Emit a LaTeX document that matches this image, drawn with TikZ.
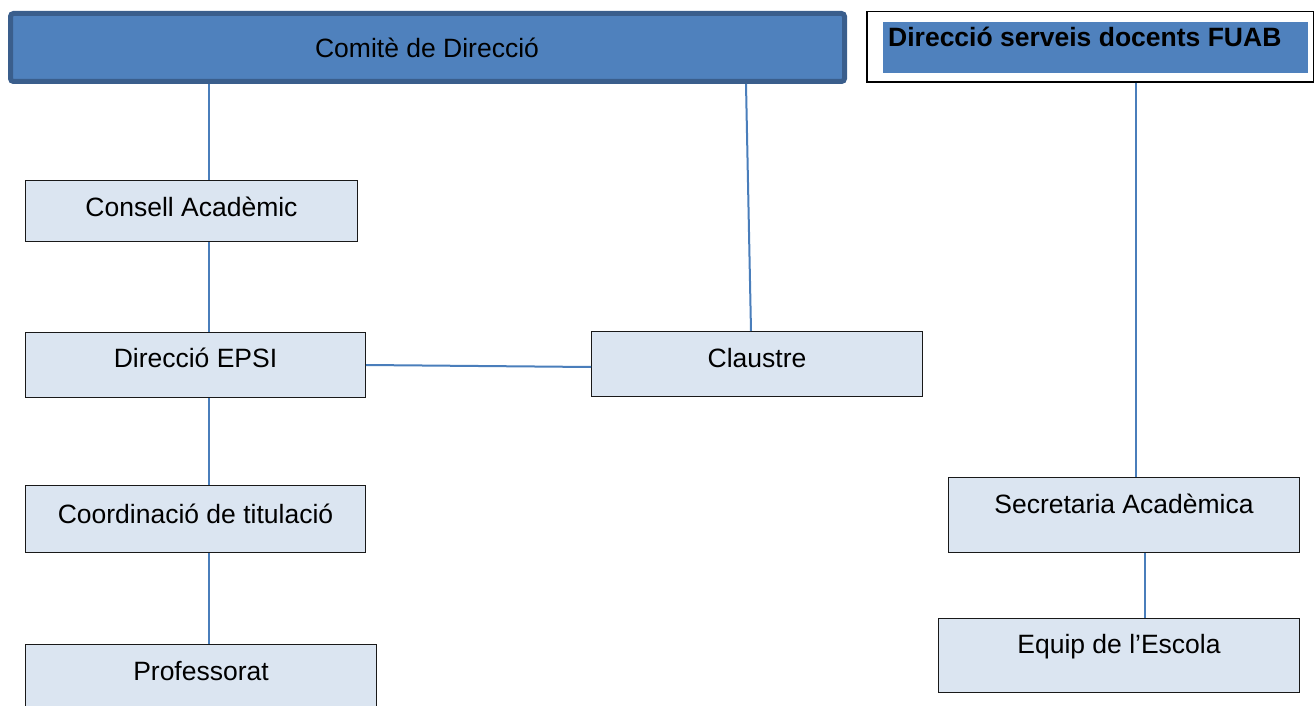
\documentclass[tikz,border=0pt]{standalone}
\usepackage{fontspec}
\setmainfont{Liberation Sans}
\definecolor{comfill}{RGB}{79,129,189}
\definecolor{comborder}{RGB}{58,94,140}
\definecolor{boxfill}{RGB}{219,229,241}
\definecolor{linkblue}{RGB}{74,126,187}
\tikzset{
  orgbox/.style={draw=black!90, line width=1.3pt, fill=boxfill, rectangle, inner sep=0pt, anchor=north west},
  orgtext/.style={anchor=base, inner sep=0pt, font=\fontsize{26.5}{30}\selectfont},
  link/.style={draw=linkblue, line width=2pt},
}
\begin{document}
\begin{tikzpicture}[x=1pt,y=-1pt]
\path[use as bounding box] (0,0) rectangle (1315,706);
\clip (0,0) rectangle (1315,706);
% top boxes
\node[draw=comborder, line width=5pt, fill=comfill, rounded corners=3pt, inner sep=0pt,
      minimum width=834pt, minimum height=68pt, anchor=north west] (com) at (8,11) {};
\node[orgtext] (tcom) at (427,58) {Comitè de Direcció};
\node[draw=black, line width=1.5pt, fill=white, inner sep=0pt,
      minimum width=446.5pt, minimum height=70.5pt, anchor=north west] (fuab) at (866,11) {};
\node[fill=comfill, inner sep=0pt, minimum width=425pt, minimum height=51pt, anchor=north west] (fuabin) at (883,22) {};
\node[anchor=base west, inner sep=0pt, font=\fontsize{26.5}{30}\selectfont\bfseries] (tfuab) at (888,47) {Direcció serveis docents FUAB};
% left column
\node[orgbox, minimum width=331.7pt, minimum height=60.7pt] (cons) at (25,180) {};
\node[orgtext] (tcons) at (191.5,216) {Consell Acadèmic};
\node[orgbox, minimum width=339.7pt, minimum height=64.7pt] (epsi) at (25,332) {};
\node[orgtext] (tepsi) at (195.5,367) {Direcció EPSI};
\node[orgbox, minimum width=339.7pt, minimum height=66.7pt] (coord) at (25,485) {};
\node[orgtext] (tcoord) at (195.5,523) {Coordinació de titulació};
\node[orgbox, minimum width=350.7pt, minimum height=80pt] (prof) at (25,644) {};
\node[orgtext] (tprof) at (201,680) {Professorat};
% middle
\node[orgbox, minimum width=330.7pt, minimum height=64.7pt] (cla) at (591,331) {};
\node[orgtext] (tcla) at (757,367) {Claustre};
% right column
\node[orgbox, minimum width=350.7pt, minimum height=74.7pt] (sec) at (948,477) {};
\node[orgtext] (tsec) at (1124,513) {Secretaria Acadèmica};
\node[orgbox, minimum width=360.7pt, minimum height=73.7pt] (equip) at (938,618) {};
\node[orgtext] (tequip) at (1119,653) {Equip de l’Escola};
% connectors
\coordinate (xa) at (209,0);
\coordinate (xb) at (746,0);
\coordinate (xc) at (751,0);
\coordinate (xd) at (1136,0);
\coordinate (xe) at (1145,0);
\coordinate (ya) at (0,365);
\coordinate (yb) at (0,367);
\draw[link] (com.south -| xa) -- (cons.north -| xa);
\draw[link] (cons.south -| xa) -- (epsi.north -| xa);
\draw[link] (epsi.south -| xa) -- (coord.north -| xa);
\draw[link] (coord.south -| xa) -- (prof.north -| xa);
\draw[link] (com.south -| xb) -- (cla.north -| xc);
\draw[link] (epsi.east |- ya) -- (cla.west |- yb);
\draw[link] (fuab.south -| xd) -- (sec.north -| xd);
\draw[link] (sec.south -| xe) -- (equip.north -| xe);
\end{tikzpicture}
\end{document}
